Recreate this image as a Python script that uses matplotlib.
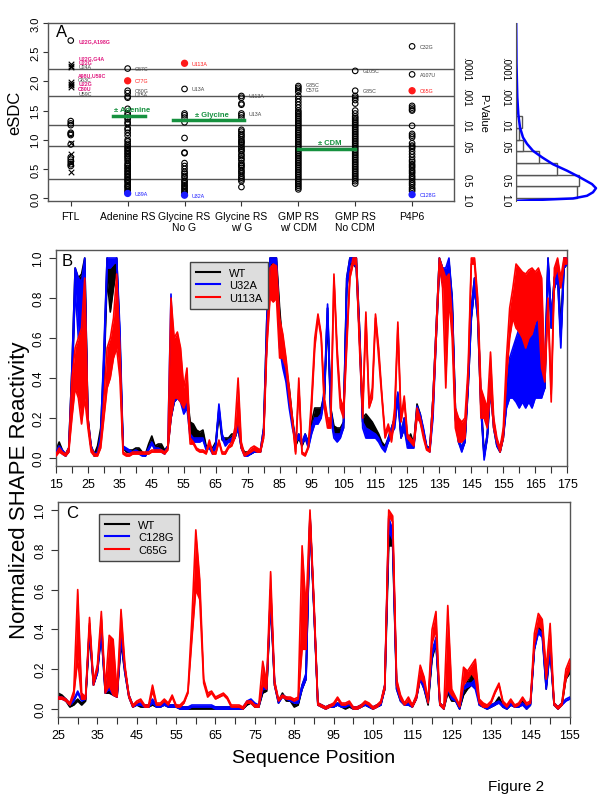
import numpy as np
import matplotlib
matplotlib.use('Agg')
import matplotlib.pyplot as plt
from matplotlib.lines import Line2D

plt.rcParams['font.family'] = ['Liberation Sans', 'DejaVu Sans']

# ---------------- panel A data ----------------
categories = ['FTL', 'Adenine RS', 'Glycine RS\nNo G', 'Glycine RS\nw/ G',
              'GMP RS\nw/ CDM', 'GMP RS\nNo CDM', 'P4P6']
ftl_circles = [2.70, 1.32, 1.28, 1.25, 1.12, 1.10, 1.08, 0.92, 0.70, 0.66, 0.62, 0.58, 0.55]
ftl_crosses = [2.30, 2.27, 2.24, 1.99, 1.96, 1.93, 1.90, 0.95, 0.75, 0.60, 0.45]
adenine = [2.22, 1.84, 1.80, 1.74, 1.72, 1.53, 1.45, 1.42, 1.38, 1.35, 1.30, 1.27, 1.20, 1.17,
           1.12, 1.07, 1.00, 0.97, 0.93, 0.90, 0.87, 0.85, 0.82, 0.80, 0.77, 0.75, 0.72, 0.70,
           0.67, 0.64, 0.60, 0.57, 0.55, 0.52, 0.50, 0.47, 0.45, 0.42, 0.40, 0.37, 0.35, 0.32,
           0.30, 0.28, 0.25, 0.22, 0.20, 0.18, 0.15, 0.12, 0.10]
glycine_nog = [1.87, 1.45, 1.42, 1.38, 1.30, 1.03, 0.78, 0.77, 0.60, 0.55, 0.50, 0.45, 0.42,
               0.38, 0.35, 0.30, 0.28, 0.25, 0.22, 0.20, 0.17, 0.15, 0.12, 0.10, 0.07]
glycine_g = [1.75, 1.72, 1.62, 1.60, 1.45, 1.42, 1.38, 1.17, 1.14, 1.10, 1.07, 1.04, 1.00, 0.97,
             0.95, 0.92, 0.88, 0.85, 0.82, 0.80, 0.75, 0.72, 0.68, 0.65, 0.60, 0.57, 0.55, 0.52,
             0.48, 0.45, 0.42, 0.38, 0.35, 0.32, 0.29, 0.19]
gmp_cdm = [1.92, 1.89, 1.86, 1.82, 1.75, 1.70, 1.65, 1.60, 1.55, 1.50, 1.47, 1.44, 1.41, 1.38,
           1.35, 1.32, 1.29, 1.26, 1.23, 1.20, 1.17, 1.14, 1.11, 1.08, 1.05, 1.02, 0.99, 0.96,
           0.93, 0.90, 0.87, 0.84, 0.81, 0.78, 0.75, 0.72, 0.69, 0.66, 0.63, 0.60, 0.57, 0.54,
           0.51, 0.48, 0.45, 0.42, 0.39, 0.36, 0.33, 0.30, 0.27, 0.24, 0.21, 0.18, 0.15]
gmp_nocdm = [2.18, 1.84, 1.75, 1.72, 1.68, 1.62, 1.50, 1.45, 1.40, 1.37, 1.34, 1.31, 1.28, 1.25,
             1.22, 1.19, 1.16, 1.13, 1.10, 1.07, 1.04, 1.01, 0.98, 0.95, 0.92, 0.89, 0.86, 0.83,
             0.80, 0.77, 0.74, 0.71, 0.68, 0.65, 0.62, 0.59, 0.56, 0.53, 0.50, 0.47, 0.44, 0.41,
             0.38, 0.35, 0.32, 0.29, 0.25]
p4p6 = [2.60, 2.12, 1.58, 1.55, 1.52, 1.50, 1.24, 1.10, 1.07, 1.04, 0.94, 0.90, 0.88, 0.85,
        0.80, 0.75, 0.70, 0.65, 0.62, 0.58, 0.55, 0.52, 0.48, 0.45, 0.42, 0.38, 0.35, 0.32,
        0.28, 0.25, 0.22, 0.18, 0.15, 0.12]
columns = [adenine, glycine_nog, glycine_g, gmp_cdm, gmp_nocdm, p4p6]

# highlighted points: (column, eSDC, colour)
hl_col = [2, 3, 7, 2, 3, 7]
hl_val = [2.01, 2.31, 1.84, 0.08, 0.05, 0.06]
hl_color = ['#ff1a1a', '#ff1a1a', '#ff1a1a', '#1a1aff', '#1a1aff', '#1a1aff']

# point labels: (column, eSDC, text, colour)
lab_col = [1, 1, 1, 1, 1, 1, 1, 1, 1, 2, 2, 2, 2, 2, 3, 3, 3, 4, 4, 5, 5, 6, 6, 7, 7, 7, 7]
lab_val = [2.70, 2.40, 2.33, 2.26, 2.11, 2.04, 1.96, 1.88, 1.80, 2.22, 2.01, 1.85, 1.78, 0.08,
           2.31, 1.87, 0.05, 1.75, 1.45, 1.94, 1.86, 2.18, 1.84, 2.60, 2.12, 1.84, 0.06]
lab_text = ['U22G,A198G', 'U22G,G4A', 'U22G', 'U24A', 'A98U,U59C', 'G63C', 'U22G', 'C80U',
            'U59C', 'G67C', 'C77G', 'C80G', 'U75A', 'U39A', 'U113A', 'U13A', 'U32A', 'U113A',
            'U13A', 'G85C', 'C57G', 'G105C', 'G85C', 'C32G', 'A107U', 'C65G', 'C128G']
lab_color = ['#e0177f', '#e0177f', '#e0177f', '#444444', '#e0177f', '#444444', '#e0177f',
             '#e0177f', '#444444', '#444444', '#ff1a1a', '#444444', '#444444', '#1a1aff',
             '#ff1a1a', '#444444', '#1a1aff', '#444444', '#444444', '#444444', '#444444',
             '#444444', '#444444', '#444444', '#444444', '#ff1a1a', '#1a1aff']

# +/- ligand lines: (x start, x end, eSDC, text)
lig_x0 = [1.75, 2.8, 5.0]
lig_x1 = [2.3, 4.05, 6.0]
lig_y = [1.40, 1.33, 0.84]
lig_text = ['± Adenine', '± Glycine', '± CDM']

pval_esdc = [-0.03, 0.32, 0.90, 1.25, 1.75, 2.22]
pval_text = ['1.0', '0.5', '.05', '.01', '.001', '.0001']

# side histogram of eSDC
hist_edges = [0.0, 0.2, 0.4, 0.6, 0.8, 1.0, 1.2, 1.4]
hist_counts = [61, 63, 41, 23, 7, 3, 6]
curve_y = [-0.046, -0.03, -0.006, 0.04, 0.10, 0.17, 0.24, 0.355, 0.47, 0.58, 0.70, 0.81,
           0.93, 1.04, 1.21, 1.44, 1.73, 2.30, 2.98]
curve_x = [0, 24, 57, 71, 77, 80, 76, 64, 51, 37, 26, 17, 11, 7, 4, 2.3, 1.3, 0.5, 0.2]

# ---------------- panel B data (positions 15..175) ----------------
b_pos = np.arange(15, 176)
b_wt_lo = [.03, .05, .03, .01, .04, .35, .85, .85, .85, .95,
           .18, .05, .01, .04, .12, .4, .9, .73, .85, .95,
           .5, .05, .03, .03, .03, .03, .03, .02, .01, .05,
           .08, .04, .05, .05, .03, .05, .2, .28, .3, .3,
           .25, .28, .13, .1, .1, .1, .1, .05, .05, .03,
           .06, .22, .09, .08, .08, .1, .1, .15, .05, .02,
           .02, .02, .03, .03, .03, .12, .6, .95, .97, .95,
           .6, .5, .4, .3, .18, .06, .1, .06, .1, .06,
           .15, .2, .2, .22, .3, .7, .22, .12, .12, .12,
           .15, .85, .97, .97, .95, .6, .18, .15, .15, .13,
           .12, .1, .06, .05, .08, .12, .18, .3, .1, .15,
           .07, .08, .06, .24, .2, .12, .05, .04, .25, .6,
           .95, .9, .85, .9, .75, .2, .08, .04, .08, .35,
           .7, .85, .7, .25, .01, .1, .35, .15, .06, .03,
           .1, .27, .32, .32, .3, .28, .3, .28, .3, .28,
           .32, .32, .32, .35, .98, .65, .85, .9, .6, .95,
           .97]
b_wt_hi = [.04, .08, .04, .02, .05, .45, .95, .9, .92, 1.0,
           .2, .06, .02, .06, .15, .5, 1.0, .95, .97, 1.0,
           .6, .06, .04, .04, .04, .05, .05, .03, .02, .07,
           .11, .06, .07, .07, .04, .06, .3, .32, .34, .33,
           .3, .33, .18, .17, .14, .13, .14, .06, .06, .05,
           .08, .24, .1, .1, .1, .12, .12, .17, .06, .03,
           .03, .03, .04, .04, .04, .15, .7, 1.0, 1.0, 1.0,
           .75, .55, .45, .35, .2, .08, .12, .07, .12, .08,
           .18, .25, .25, .25, .32, .75, .25, .16, .15, .15,
           .18, .9, 1.0, 1.0, 1.0, .65, .2, .22, .2, .18,
           .15, .12, .08, .06, .1, .15, .2, .32, .12, .2,
           .08, .12, .07, .27, .22, .14, .06, .05, .3, .65,
           1.0, .95, .9, .98, .8, .25, .1, .05, .1, .4,
           .75, .9, .75, .3, .02, .12, .4, .18, .08, .05,
           .12, .33, .48, .52, .58, .62, .58, .6, .62, .82,
           .58, .8, .48, .4, 1.0, .7, .9, .98, .65, 1.0,
           1.0]
b_u32a_lo = [.02, .04, .02, .01, .03, .35, .85, .6, .6, .8,
             .18, .05, .01, .02, .08, .45, .95, .95, .97, .98,
             .55, .05, .04, .03, .02, .03, .02, .01, .01, .04,
             .07, .04, .04, .03, .02, .05, .2, .28, .3, .28,
             .22, .25, .1, .08, .08, .08, .09, .04, .05, .02,
             .05, .25, .1, .06, .08, .08, .1, .15, .05, .01,
             .01, .02, .03, .03, .03, .12, .6, .97, .98, .95,
             .55, .45, .38, .25, .15, .08, .1, .07, .1, .05,
             .12, .17, .17, .2, .3, .75, .2, .1, .08, .1,
             .15, .85, .98, .98, .95, .6, .15, .1, .1, .1,
             .1, .08, .05, .03, .08, .12, .15, .3, .1, .15,
             .05, .05, .05, .22, .18, .12, .05, .03, .2, .6,
             .95, .88, .85, .9, .75, .2, .08, .03, .08, .35,
             .7, .85, .7, .25, -.01, .1, .35, .15, .06, .03,
             .1, .25, .3, .3, .28, .25, .28, .25, .28, .25,
             .3, .3, .3, .35, .95, .65, .85, .9, .55, .95,
             .97]
b_u32a_hi = [.03, .06, .04, .02, .05, .45, .95, .9, .88, 1.0,
             .2, .06, .02, .03, .12, .55, 1.0, 1.0, 1.0, 1.0,
             .65, .06, .05, .04, .03, .04, .03, .02, .02, .05,
             .08, .05, .05, .04, .03, .06, .82, .33, .35, .33,
             .27, .3, .12, .1, .1, .1, .1, .05, .06, .04,
             .07, .27, .12, .08, .09, .1, .12, .18, .06, .02,
             .02, .03, .04, .04, .04, .15, .7, 1.0, 1.0, 1.0,
             .65, .5, .42, .3, .18, .1, .12, .08, .12, .07,
             .15, .2, .2, .22, .35, .77, .25, .12, .12, .12,
             .18, .9, 1.0, 1.0, 1.0, .65, .18, .15, .14, .13,
             .12, .1, .06, .05, .1, .15, .2, .33, .12, .2,
             .08, .08, .06, .26, .22, .15, .06, .04, .3, .65,
             1.0, .95, .95, 1.0, .8, .25, .1, .05, .1, .4,
             .75, .9, .75, .3, .01, .12, .4, .18, .08, .05,
             .12, .35, .5, .55, .6, .65, .6, .62, .65, .85,
             .6, .82, .5, .45, 1.0, .7, .9, .98, .6, 1.0,
             1.0]
b_u113a_lo = [.01, .03, .02, .01, .03, .2, .35, .3, .17, .3,
              .15, .03, .01, .01, .05, .2, .35, .4, .5, .55,
              .4, .02, .01, .01, .02, .02, .02, .02, .02, .02,
              .03, .03, .03, .03, .02, .04, .2, .3, .3, .28,
              .25, .3, .07, .07, .04, .03, .03, .02, .07, .02,
              .02, .08, .02, .02, .05, .06, .1, .2, .05, .01,
              .02, .03, .04, .03, .03, .1, .55, .8, .78, .8,
              .5, .5, .45, .3, .18, .02, .35, .02, .01, .05,
              .25, .55, .7, .6, .25, .15, .15, .9, .5, .25,
              .2, .55, .9, .97, .97, .55, .2, .7, .25, .3,
              .7, .5, .3, .1, .15, .08, .2, .65, .18, .28,
              .1, .08, .06, .2, .18, .1, .04, .03, .25, .6,
              .97, .85, .35, .8, .6, .15, .08, .08, .1, .4,
              .97, .97, .75, .2, .2, .15, .35, .15, .08, .03,
              .1, .4, .6, .7, .65, .63, .6, .55, .6, .62,
              .68, .7, .45, .38, .75, .28, .9, .95, .85, .97,
              .97]
b_u113a_hi = [.02, .05, .03, .02, .05, .4, .55, .6, .65, .9,
              .2, .05, .02, .02, .08, .3, .55, .6, .7, .92,
              .55, .03, .02, .02, .03, .03, .03, .03, .03, .03,
              .04, .04, .04, .04, .03, .05, .8, .6, .63, .55,
              .35, .45, .1, .08, .05, .04, .04, .03, .09, .03,
              .03, .09, .03, .03, .06, .08, .15, .4, .08, .02,
              .03, .05, .06, .05, .04, .12, .6, .95, .97, .96,
              .7, .62, .5, .35, .2, .03, .4, .03, .02, .06,
              .3, .6, .72, .62, .3, .2, .2, .92, .55, .3,
              .25, .6, .92, 1.0, 1.0, .6, .25, .73, .27, .35,
              .72, .55, .32, .12, .17, .1, .25, .68, .2, .31,
              .12, .1, .08, .25, .2, .12, .05, .04, .3, .65,
              1.0, .95, .9, .92, .7, .25, .2, .18, .2, .45,
              1.0, 1.0, .8, .35, .3, .25, .53, .2, .1, .05,
              .15, .5, .75, .85, .97, .95, .93, .92, .94, .95,
              .93, .95, .9, .42, .8, .32, .95, 1.0, .9, 1.0,
              1.0]

# ---------------- panel C data (positions 25..155) ----------------
c_pos = np.arange(25, 156)
c_wt_lo = [.07, .06, .04, .01, .02, .04, .02, .04, .38, .12,
           .18, .38, .08, .08, .07, .06, .33, .18, .06, .01,
           .02, .01, .01, .01, .02, .01, .01, .02, .01, .01,
           .01, 0, 0, 0, 0, 0, 0, 0, 0, 0,
           0, 0, 0, 0, 0, 0, 0, 0, .02, .03,
           .01, .01, .08, .09, .55, .12, .03, .07, .04, .04,
           .01, .02, .1, .15, .95, .5, .02, .01, 0, .01,
           .01, .02, .01, 0, .01, 0, 0, .01, .02, .01,
           0, .01, .02, .1, .82, .82, .1, .04, .02, .02,
           .01, .05, .15, .1, .02, .25, .33, .02, 0, .08,
           .04, .04, 0, .07, .1, .12, .15, .02, .01, 0,
           .01, .02, .05, .01, 0, .02, .01, .01, .03, 0,
           .02, .3, .4, .38, .1, .3, .02, 0, .02, .15,
           .18]
c_wt_hi = [.08, .07, .05, .02, .03, .05, .03, .05, .4, .13,
           .2, .4, .1, .12, .1, .07, .35, .2, .07, .02,
           .03, .02, .02, .02, .03, .02, .02, .03, .02, .02,
           .02, .01, .01, .01, .01, .01, .01, .01, .01, .01,
           .01, .01, .01, .01, .01, .01, .01, .01, .03, .04,
           .02, .02, .1, .1, .57, .13, .04, .08, .05, .05,
           .02, .03, .12, .17, .97, .52, .03, .02, .01, .02,
           .02, .03, .02, .01, .02, .01, .01, .02, .03, .02,
           .01, .02, .03, .12, .9, .88, .13, .05, .03, .03,
           .02, .06, .16, .11, .03, .27, .35, .03, .01, .1,
           .05, .05, .01, .08, .14, .18, .16, .03, .02, .01,
           .02, .03, .06, .02, .01, .03, .02, .02, .04, .01,
           .03, .32, .41, .4, .12, .32, .03, .01, .03, .18,
           .2]
c_c128g_lo = [.05, .05, .04, .02, .04, .08, .04, .05, .4, .12,
              .18, .38, .08, .1, .07, .06, .35, .18, .06, .01,
              .02, .02, .01, .01, .03, .01, .01, .02, .01, .01,
              .01, 0, 0, 0, .01, .01, .01, .01, .01, .01,
              0, 0, 0, 0, 0, 0, 0, 0, .03, .04,
              .02, .01, .1, .1, .55, .12, .03, .06, .05, .04,
              .03, .03, .1, .15, .95, .5, .02, .01, 0, .01,
              .01, .02, .01, .01, .02, 0, 0, .01, .02, .01,
              0, .01, .02, .1, .9, .85, .1, .04, .02, .02,
              .01, .05, .15, .1, .03, .27, .33, .02, 0, .1,
              .05, .04, 0, .1, .11, .12, .1, .02, .01, 0,
              .01, .02, .03, .01, 0, .02, .01, .01, .02, 0,
              .02, .3, .38, .36, .1, .3, .02, 0, .02, .04,
              .05]
c_c128g_hi = [.06, .06, .05, .03, .05, .09, .05, .06, .42, .13,
              .2, .41, .1, .19, .15, .07, .37, .2, .07, .02,
              .03, .03, .02, .02, .05, .02, .02, .03, .02, .02,
              .02, .01, .01, .01, .02, .02, .02, .02, .02, .02,
              .01, .01, .01, .01, .01, .01, .01, .01, .04, .05,
              .03, .02, .12, .12, .6, .14, .04, .07, .06, .05,
              .04, .04, .12, .18, .98, .52, .03, .02, .01, .02,
              .02, .03, .02, .02, .03, .01, .01, .02, .03, .02,
              .01, .02, .03, .12, .96, .9, .12, .05, .03, .03,
              .02, .06, .17, .12, .04, .29, .36, .03, .01, .12,
              .07, .05, .01, .11, .13, .13, .15, .03, .02, .01,
              .02, .03, .04, .02, .01, .03, .02, .02, .03, .01,
              .03, .32, .4, .38, .12, .32, .03, .01, .03, .05,
              .06]
c_c65g_lo = [.05, .05, .04, .02, .07, .25, .05, .05, .43, .12,
             .2, .45, .08, .12, .07, .06, .42, .2, .06, .01,
             .03, .04, .01, .01, .09, .02, .02, .04, .02, .06,
             .01, .01, .03, .08, .35, .6, .55, .13, .06, .08,
             .05, .06, .07, .05, .01, .01, .01, 0, .03, .03,
             .01, .01, .12, .1, .6, .12, .04, .06, .05, .05,
             .04, .05, .3, .3, .98, .52, .02, .01, 0, .01,
             .02, .05, .02, .02, .03, 0, 0, .01, .03, .02,
             0, .01, .03, .1, .97, .94, .12, .05, .02, .04,
             .01, .05, .16, .13, .03, .33, .4, .02, 0, .1,
             .07, .05, .01, .12, .15, .18, .15, .03, .01, .01,
             .03, .08, .12, .03, .01, .04, .01, .02, .05, .02,
             .03, .33, .42, .4, .15, .35, .02, 0, .02, .15,
             .2]
c_c65g_hi = [.06, .06, .05, .03, .09, .6, .08, .06, .46, .14,
             .22, .49, .1, .37, .35, .08, .5, .22, .07, .02,
             .04, .05, .02, .02, .12, .03, .03, .05, .03, .07,
             .02, .02, .04, .09, .45, .9, .65, .15, .08, .09,
             .06, .07, .08, .06, .02, .02, .02, .01, .04, .04,
             .02, .02, .24, .13, .69, .14, .05, .07, .06, .06,
             .05, .06, .82, .5, 1.0, .55, .03, .02, .01, .02,
             .03, .06, .03, .03, .04, .01, .01, .02, .04, .03,
             .01, .02, .04, .12, 1.0, .97, .15, .07, .03, .06,
             .02, .07, .22, .16, .04, .4, .49, .03, .01, .52,
             .1, .06, .02, .21, .19, .22, .25, .05, .03, .02,
             .04, .09, .13, .04, .02, .05, .02, .03, .06, .03,
             .04, .38, .48, .45, .2, .43, .03, .01, .03, .2,
             .25]

FRAME = '#555555'
GREEN = '#16913f'


def frame(ax):
    for s in ax.spines.values():
        s.set_color(FRAME)
        s.set_linewidth(1.0)
    ax.tick_params(colors='#333333', labelcolor='black')


def draw_profile(ax, pos, bands):
    # each series drawn as band + edges, later series on top
    for k, ((lo, hi), color) in enumerate(zip(bands, ['black', '#0000ff', '#ff0000'])):
        z = 2 + k
        ax.fill_between(pos, lo, hi, color=color, lw=0, zorder=z)
        ax.plot(pos, lo, color=color, lw=1.2, zorder=z)
        ax.plot(pos, hi, color=color, lw=1.2, zorder=z)
    return [Line2D([], [], color=c, lw=1.5) for c in ['black', '#0000ff', '#ff0000']]


fig = plt.figure(figsize=(6.0, 8.03), dpi=100)

# ---------------- panel A ----------------
axA = fig.add_axes([0.080, 0.7484, 0.677, 0.2217])
frame(axA)
for lvl in pval_esdc[1:]:
    axA.axhline(lvl, color=FRAME, lw=1.0, zorder=1)
axA.scatter(np.ones(len(ftl_circles)), ftl_circles, s=16, facecolors='none',
            edgecolors='black', linewidths=0.8, zorder=3)
axA.scatter(np.ones(len(ftl_crosses)), ftl_crosses, s=16, marker='x', color='black',
            linewidths=0.8, zorder=3)
for i, vals in enumerate(columns):
    axA.scatter(np.full(len(vals), i + 2), vals, s=16, facecolors='none',
                edgecolors='black', linewidths=0.8, zorder=3)
axA.scatter(hl_col, hl_val, s=18, color=hl_color, zorder=4)
for c, v, t, col in zip(lab_col, lab_val, lab_text, lab_color):
    bold = col == '#e0177f'
    axA.text(c + 0.13, v, t, fontsize=3.8, color=col, va='center',
             fontweight='bold' if bold else 'normal')
for x0, x1, y, t in zip(lig_x0, lig_x1, lig_y, lig_text):
    axA.plot([x0, x1], [y, y], color=GREEN, lw=2.5, zorder=5)
    axA.text((x0 + x1) / 2 + 0.05, y + 0.05, t, color=GREEN, fontsize=5.5,
             fontweight='bold', ha='center', va='bottom')
axA.set_xlim(0.6, 7.74)
axA.set_ylim(-0.05, 3.0)
axA.set_xticks(range(1, 8))
axA.set_xticklabels(categories, fontsize=7.5, linespacing=1.1)
axA.set_yticks(np.arange(0, 3.01, 0.5))
axA.set_yticklabels(['%.1f' % v for v in np.arange(0, 3.01, 0.5)], rotation=90,
                    va='center', fontsize=8)
axA.tick_params(axis='y', pad=2)
axA.set_ylabel('eSDC', fontsize=12, labelpad=6)
axA.text(0.02, 0.95, 'A', transform=axA.transAxes, fontsize=12, va='center')
axR = axA.twinx()
axR.set_ylim(axA.get_ylim())
axR.set_yticks(pval_esdc)
axR.set_yticklabels(pval_text, rotation=-90, va='center', fontsize=7)
axR.tick_params(length=0, pad=5)
axR.set_ylabel('P-Value', rotation=-90, fontsize=8, labelpad=12)
for s in axR.spines.values():
    s.set_visible(False)

# side histogram
axH = fig.add_axes([0.86, 0.7484, 0.14, 0.2217])
axH.barh(hist_edges[:-1], hist_counts, height=0.2, align='edge', facecolor='white',
         edgecolor=FRAME, lw=1.0)
axH.plot(curve_x, curve_y, color='#0000ff', lw=1.8)
axH.set_ylim(-0.05, 3.0)
axH.set_xlim(0, 84)
axH.set_yticks(pval_esdc)
axH.set_yticklabels(pval_text, rotation=-90, va='center', fontsize=7)
axH.tick_params(length=0, pad=4)
axH.set_xticks([])
for k in ['top', 'right', 'bottom']:
    axH.spines[k].set_visible(False)
axH.spines['left'].set_color(FRAME)
axH.patch.set_alpha(0)

# ---------------- panel B ----------------
axB = fig.add_axes([0.0933, 0.4184, 0.852, 0.269])
frame(axB)
hB = draw_profile(axB, b_pos, [(b_wt_lo, b_wt_hi), (b_u32a_lo, b_u32a_hi),
                               (b_u113a_lo, b_u113a_hi)])
axB.set_xlim(15, 175)
axB.set_ylim(-0.04, 1.04)
axB.set_xticks(np.arange(15, 176, 5))
axB.set_xticklabels([str(v) if (v - 15) % 10 == 0 else '' for v in range(15, 176, 5)],
                    fontsize=9)
axB.set_yticks(np.arange(0, 1.01, 0.2))
axB.set_yticklabels(['%.1f' % v for v in np.arange(0, 1.01, 0.2)], rotation=90,
                    va='center', fontsize=8.5)
axB.tick_params(length=5)
axB.text(0.012, 0.95, 'B', transform=axB.transAxes, fontsize=12, va='center')
axB.legend(hB, ['WT', 'U32A', 'U113A'], loc='upper left',
           bbox_to_anchor=(0.252, 0.97), fontsize=8, fancybox=False,
           facecolor='#dddddd', edgecolor='#444444', framealpha=1,
           handlelength=2.2, borderpad=0.5, labelspacing=0.25).set_zorder(10)

# ---------------- panel C ----------------
axC = fig.add_axes([0.0967, 0.1059, 0.853, 0.2677])
frame(axC)
hC = draw_profile(axC, c_pos, [(c_wt_lo, c_wt_hi), (c_c128g_lo, c_c128g_hi),
                               (c_c65g_lo, c_c65g_hi)])
axC.set_xlim(25, 155)
axC.set_ylim(-0.04, 1.04)
axC.set_xticks(np.arange(25, 156, 5))
axC.set_xticklabels([str(v) if (v - 25) % 10 == 0 else '' for v in range(25, 156, 5)],
                    fontsize=9)
axC.set_yticks(np.arange(0, 1.01, 0.2))
axC.set_yticklabels(['%.1f' % v for v in np.arange(0, 1.01, 0.2)], rotation=90,
                    va='center', fontsize=8.5)
axC.tick_params(length=5)
axC.text(0.015, 0.95, 'C', transform=axC.transAxes, fontsize=12, va='center')
axC.legend(hC, ['WT', 'C128G', 'C65G'], loc='upper left', bbox_to_anchor=(0.07, 0.97),
           fontsize=8, fancybox=False, facecolor='#dddddd', edgecolor='#444444',
           framealpha=1, handlelength=2.2, borderpad=0.5, labelspacing=0.25).set_zorder(10)
axC.set_xlabel('Sequence Position', fontsize=14, labelpad=6)

fig.text(0.033, 0.39, 'Normalized SHAPE Reactivity', rotation=90, fontsize=16,
         ha='center', va='center')
fig.text(0.86, 0.02, 'Figure 2', fontsize=11, ha='center', va='center')

fig.savefig('out.png', dpi=100)
